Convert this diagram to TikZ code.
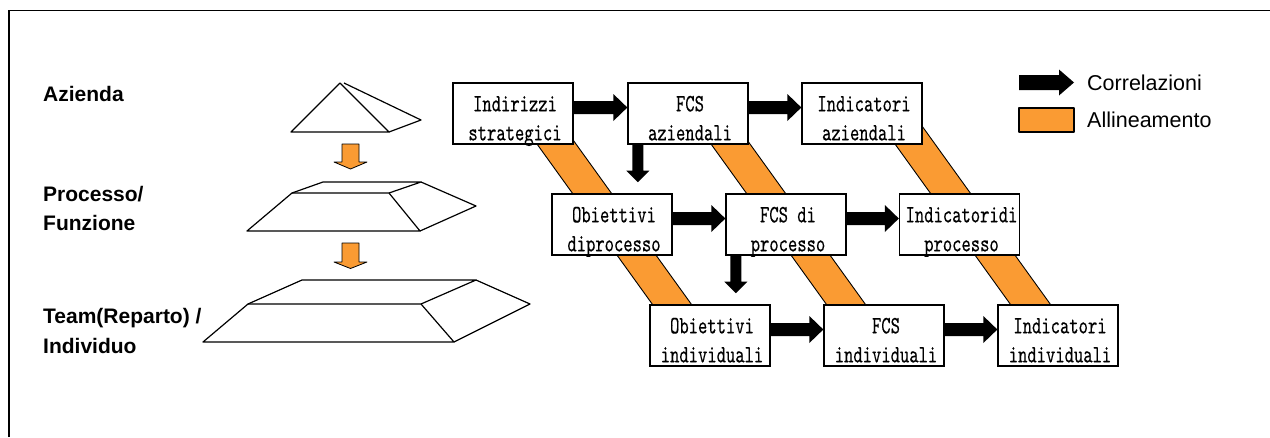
\documentclass[tikz,border=0pt]{standalone}
\usepackage{fontspec}
\usetikzlibrary{calc}
\newfontfamily\boxfont[FakeStretch=0.71,FakeBold=0.35]{lmmono10-regular.otf}
\newfontfamily\labfont{Liberation Sans}
\definecolor{orng}{RGB}{250,155,51}
\newcommand\harr[2]{\fill[black] ($(#1.east)+(0,-12.5)$) -- ($(#2.west)+(-14,-12.5)$) -- ($(#2.west)+(-14,-19.5)$) -- ($(#2.west)+(0,-6)$) -- ($(#2.west)+(-14,7.5)$) -- ($(#2.west)+(-14,0.5)$) -- ($(#1.east)+(0,0.5)$) -- cycle;}
\newcommand\varr[1]{\fill[black] ($(#1.south west)+(5,0)$) -- ($(#1.south west)+(5,26)$) -- ($(#1.south west)+(-1,26)$) -- ($(#1.south west)+(10.5,37.5)$) -- ($(#1.south west)+(22,26)$) -- ($(#1.south west)+(16,26)$) -- ($(#1.south west)+(16,0)$) -- cycle;}
\newcommand\mybox[4]{%
  \node[fcsbox] (#1) at (#2) {};
  \node[boxtxt] (#1a) at ([xshift=2pt,yshift=-29pt]#1.north) {#3};
  \node[boxtxt] (#1b) at ([xshift=2pt,yshift=-58pt]#1.north) {#4};}
\begin{document}
\begin{tikzpicture}[x=1pt,y=-1pt,
  fcsbox/.style={draw=black, line width=1.3pt, fill=white, minimum width=120pt, minimum height=61pt, inner sep=0pt},
  boxtxt/.style={font=\boxfont\fontsize{25}{28}\selectfont, inner sep=0pt, anchor=base},
  sidelab/.style={font=\labfont\bfseries\fontsize{21}{24}\selectfont, inner sep=0pt, anchor=base west},
  leglab/.style={font=\labfont\fontsize{21.5}{25}\selectfont, inner sep=0pt, anchor=base west},
  band/.style={fill=orng, draw=black, line width=0.9pt, line join=round},
  pyr/.style={draw=black, line width=1.2pt, line join=round},
  oarrow/.style={fill=orng, draw=black, line width=0.8pt, line join=round}]
\useasboundingbox (0,0) rectangle (1270,437);
% frame
\draw[line width=1.5pt] (9,437) -- (9,10.7) -- (1270,10.7);
% left labels
\node[sidelab] (lAz) at (43,101) {Azienda};
\node[sidelab] (lPr) at (43,201) {Processo/};
\node[sidelab] (lFu) at (43,230) {Funzione};
\node[sidelab] (lTe) at (43,323) {Team(Reparto) /};
\node[sidelab] (lIn) at (43,353) {Individuo};
% pyramids
\draw[pyr] (291,132) -- (340,83) -- (389,132) -- cycle;
\draw[pyr] (344,83) -- (421,120) -- (389,132);
\draw[pyr] (247,231) -- (292,193) -- (389,193) -- (420,231) -- cycle;
\draw[pyr] (292,193) -- (323,182) -- (421,182) -- (389,193);
\draw[pyr] (421,182) -- (476,206) -- (420,231);
\draw[pyr] (203,342) -- (248,304) -- (421,304) -- (454,342) -- cycle;
\draw[pyr] (248,304) -- (302,280) -- (476,280) -- (421,304);
\draw[pyr] (476,280) -- (530,304) -- (454,342);
\draw[oarrow] (342,144) -- (342,162) -- (334,162) -- (350.5,169) -- (367,162) -- (359,162) -- (359,144) -- cycle;
\draw[oarrow] (342,243) -- (342,262) -- (334,262) -- (350.5,268.5) -- (367,262) -- (359,262) -- (359,243) -- cycle;
% bands
\foreach \bo/\bw in {0/39,174/39,358/40}
  \draw[band] ({519.7+\bo},120) -- ({663.7+\bo},320) -- ({663.7+\bo+\bw},320) -- ({519.7+\bo+\bw},120) -- cycle;
% boxes
\mybox{a1}{513,113.5}{Indirizzi}{strategici}
\mybox{a2}{688,113.5}{FCS}{aziendali}
\mybox{a3}{862,113.5}{Indicatori}{aziendali}
\mybox{b1}{612,224.5}{Obiettivi}{diprocesso}
\mybox{b2}{786,224.5}{FCS di}{processo}
\mybox{b3}{959.5,224.5}{Indicatoridi}{processo}
\mybox{c1}{710,335.5}{Obiettivi}{individuali}
\mybox{c2}{884,335.5}{FCS}{individuali}
\mybox{c3}{1058,335.5}{Indicatori}{individuali}
% correlations
\harr{a1}{a2}
\harr{a2}{a3}
\harr{b1}{b2}
\harr{b2}{b3}
\harr{c1}{c2}
\harr{c2}{c3}
\varr{a2}
\varr{b2}
% legend
\coordinate (lgA) at (1019,82.5);
\coordinate (lgB) at (1074,82.5);
\fill[black] ($(lgA)+(0,-7.5)$) -- ($(lgB)+(-15,-7.5)$) -- ($(lgB)+(-15,-13)$) -- (lgB) -- ($(lgB)+(-15,13)$) -- ($(lgB)+(-15,7.5)$) -- ($(lgA)+(0,7.5)$) -- cycle;
\draw[band, line width=1.3pt] (1019,108) rectangle (1074,132);
\node[leglab] (lgC) at (1087,90) {Correlazioni};
\node[leglab] (lgD) at (1087,127) {Allineamento};
\end{tikzpicture}
\end{document}
